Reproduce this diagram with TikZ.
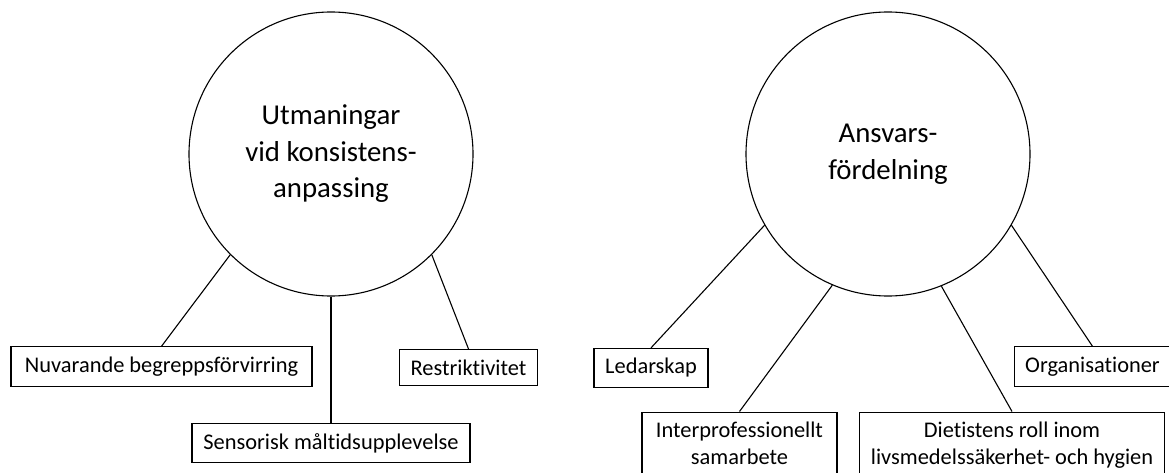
\documentclass[tikz,border=0pt]{standalone}
\usepackage{fontspec}
\setmainfont{Carlito}[Ligatures=NoCommon]

\begin{document}
\begin{tikzpicture}[x=1pt, y=-1pt, line width=1.1pt, TopicStyle/.style={draw, circle, minimum size=284pt, inner sep=0pt, align=center, font=\fontsize{28.8}{36.5}\selectfont}, CodeStyle/.style={draw, align=center, minimum height=36pt, inner xsep=11pt, inner ysep=10pt, font=\fontsize{22.4}{26.5}\selectfont}]
		\clip (0,0) rectangle (1169,473);
		\node[TopicStyle] (utm) at (331,154) {Utmaningar\\vid konsistens-\\anpassing};
		\node[TopicStyle] (ans) at (888,154) {Ansvars-\\fördelning};
		\node[CodeStyle, minimum width=301pt] (nuv) at (161.5,366.5) {Nuvarande begreppsförvirring};
		\node[CodeStyle, minimum width=137pt] (res) at (468.5,367.5) {Restriktivitet};
		\node[CodeStyle, minimum width=278pt] (sen) at (331,443) {Sensorisk måltidsupplevelse};
		\node[CodeStyle, minimum width=114pt] (led) at (651,368) {Ledarskap};
		\node[CodeStyle, minimum width=151pt] (org) at (1092.5,366.5) {Organisationer};
		\node[CodeStyle, minimum width=195pt, anchor=north] (int) at (739.5,411.5) {Interprofessionellt\\samarbete};
		\node[CodeStyle, minimum width=304pt, anchor=north] (die) at (1012,411.5) {Dietistens roll inom\\livsmedelssäkerhet- och hygien};
		\draw (utm.225) to (nuv.north);
		\draw (utm.270) to (sen.north);
		\draw (utm.315) to (res.north);
		\draw (ans.210) to (led.north);
		\draw (ans.247.5) to (int.north);
		\draw (ans.292.5) to (die.north);
		\draw (ans.330) to (org.north);
	\end{tikzpicture}
\end{document}
